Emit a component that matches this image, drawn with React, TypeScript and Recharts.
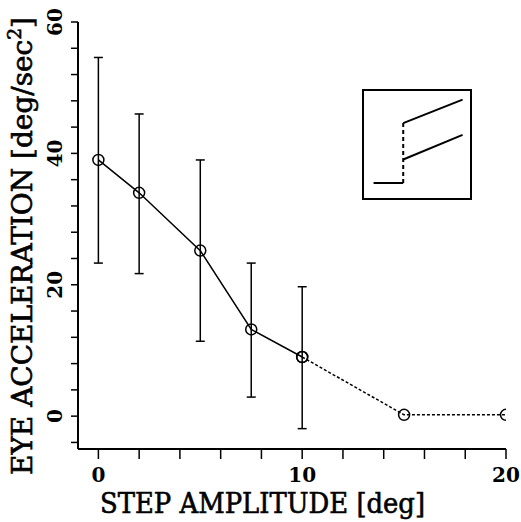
import React from "react";
import { LineChart, Line, XAxis, YAxis, ErrorBar } from "recharts";

// step amplitude [deg] and mean eye acceleration [deg/sec^2]
const amplitudes = [0, 2, 5, 7.5, 10, 15, 20];
const accel = [39, 34, 25.2, 13.2, 9, 0.2, 0.2];
// error bar ends, only for the measured (solid) part
const errTop = [54.6, 46, 39, 23.3, 19.7];
const errBottom = [23.3, 21.7, 11.4, 2.9, -1.9];

const xTicks = [0, 2, 4, 6, 8, 10, 12, 14, 16, 18, 20];
const xLabels = [0, 10, 20];
const yTicks = [-4, 0, 4, 8, 12, 16, 20, 24, 28, 32, 36, 40, 44, 48, 52, 56, 60];
const yLabels = [0, 20, 40, 60];

// inset sketch: step then two ramps (arbitrary units)
const insetBase = [
  { t: 0.9, v: 1.4 },
  { t: 3.7, v: 1.4 },
];
const insetStep = [
  { t: 3.7, v: 1.4 },
  { t: 3.7, v: 7.0 },
];
const insetUpper = [
  { t: 3.7, v: 7.0 },
  { t: 9.3, v: 9.2 },
];
const insetLower = [
  { t: 3.7, v: 3.6 },
  { t: 9.3, v: 5.9 },
];

const solidData = errTop.map((top, i) => ({
  x: amplitudes[i],
  y: accel[i],
  err: [accel[i] - errBottom[i], top - accel[i]],
}));
const dashedData = amplitudes.slice(4).map((a, i) => ({ x: a, y: accel[i + 4] }));

const FONT = "'DejaVu Serif', 'Liberation Serif', serif";

const XTick = (props: any) => {
  const { x, y, payload } = props;
  if (!xLabels.includes(payload.value)) return <g />;
  return (
    <text
      x={x}
      y={y + 21}
      textAnchor="middle"
      fontFamily={FONT}
      fontWeight="bold"
      fontSize={20}
      fill="#000"
    >
      {payload.value}
    </text>
  );
};

const YTick = (props: any) => {
  const { y, payload } = props;
  if (!yLabels.includes(payload.value)) return <g />;
  return (
    <text
      x={0}
      y={0}
      transform={`translate(62,${y}) rotate(-90)`}
      textAnchor="middle"
      fontFamily={FONT}
      fontWeight="bold"
      fontSize={20}
      fill="#000"
    >
      {payload.value}
    </text>
  );
};

const Ring = (props: any) => {
  const { cx, cy } = props;
  if (cx == null || cy == null) return <g />;
  return <circle cx={cx} cy={cy} r={5.5} fill="none" stroke="#000" strokeWidth={1.5} />;
};

export default function App() {
  return (
    <div
      style={{
        position: "absolute",
        left: 0,
        top: 0,
        width: 521,
        height: 522,
        background: "#fff",
      }}
    >
      <LineChart
        width={521}
        height={522}
        margin={{ top: 22, right: 15, bottom: 0, left: 0 }}
      >
        <XAxis
          type="number"
          dataKey="x"
          domain={[-1, 20]}
          ticks={xTicks}
          allowDataOverflow
          height={73}
          tick={<XTick />}
          tickSize={10}
          axisLine={{ stroke: "#000", strokeWidth: 2 }}
          tickLine={{ stroke: "#000", strokeWidth: 1.5 }}
          label={() => (
            <text
              x={262.5}
              y={513}
              textAnchor="middle"
              textLength={325}
              lengthAdjust="spacingAndGlyphs"
              fontFamily={FONT}
              fontSize={27}
              fill="#000"
              stroke="#000"
              strokeWidth={0.6}
            >
              STEP AMPLITUDE [deg]
            </text>
          )}
        />
        <YAxis
          type="number"
          dataKey="y"
          domain={[-5, 60]}
          ticks={yTicks}
          allowDataOverflow
          width={78}
          tick={<YTick />}
          tickSize={7}
          axisLine={{ stroke: "#000", strokeWidth: 2 }}
          tickLine={{ stroke: "#000", strokeWidth: 1.5 }}
          label={() => (
            <text
              transform="translate(32,246) rotate(-90)"
              textAnchor="middle"
              textLength={458}
              lengthAdjust="spacingAndGlyphs"
              fontFamily={FONT}
              fontSize={27}
              fill="#000"
              stroke="#000"
              strokeWidth={0.6}
            >
              EYE ACCELERATION [deg/sec
              <tspan dy={-11} fontSize={18}>
                2
              </tspan>
              <tspan dy={11}>]</tspan>
            </text>
          )}
        />
        <Line
          data={dashedData}
          dataKey="y"
          stroke="#000"
          strokeWidth={1.5}
          strokeDasharray="3 2"
          dot={<Ring />}
          isAnimationActive={false}
        />
        <Line
          data={solidData}
          dataKey="y"
          stroke="#000"
          strokeWidth={1.5}
          dot={<Ring />}
          isAnimationActive={false}
        >
          <ErrorBar
            dataKey="err"
            direction="y"
            width={4.5}
            stroke="#000"
            strokeWidth={1.5}
            isAnimationActive={false}
          />
        </Line>
      </LineChart>
      <div
        style={{
          position: "absolute",
          left: 362,
          top: 89,
          width: 106,
          height: 107,
          border: "2px solid #000",
          background: "#fff",
        }}
      >
        <LineChart
          width={106}
          height={107}
          margin={{ top: 0, right: 0, bottom: 0, left: 0 }}
        >
          <XAxis type="number" dataKey="t" domain={[0, 10]} hide />
          <YAxis type="number" dataKey="v" domain={[0, 10]} hide />
          <Line data={insetBase} dataKey="v" stroke="#000" strokeWidth={2} dot={false} isAnimationActive={false} />
          <Line data={insetStep} dataKey="v" stroke="#000" strokeWidth={2} strokeDasharray="4 3" dot={false} isAnimationActive={false} />
          <Line data={insetUpper} dataKey="v" stroke="#000" strokeWidth={2} dot={false} isAnimationActive={false} />
          <Line data={insetLower} dataKey="v" stroke="#000" strokeWidth={2} dot={false} isAnimationActive={false} />
        </LineChart>
      </div>
    </div>
  );
}
